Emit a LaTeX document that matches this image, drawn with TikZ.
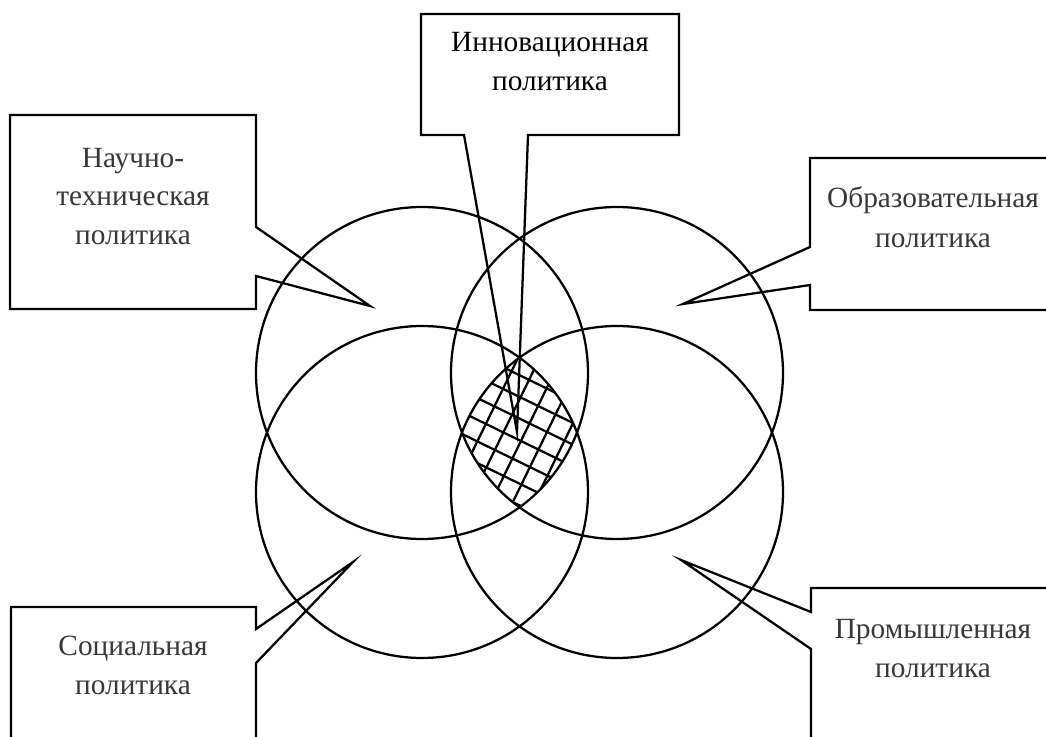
\documentclass[tikz,border=0pt]{standalone}
\usepackage{fontspec}
\setmainfont{Liberation Serif}
\begin{document}
\begin{tikzpicture}[x=0.75pt,y=-0.75pt,
  ring/.style={draw=black,line width=1.7pt},
  callout/.style={draw=black,line width=1.7pt,line join=miter},
  hatch/.style={draw=black,line width=1.7pt},
  lbl/.style={anchor=base,inner sep=0pt,text=black!78,font=\fontsize{22pt}{29pt}\selectfont},
  lblk/.style={lbl,text=black}]
\useasboundingbox (0,0) rectangle (1046,737);
\clip (0,0) rectangle (1046,737);
\fill[white] (0,0) rectangle (1046,737);
% circle centres
\coordinate (ctl) at (422,373);
\coordinate (ctr) at (617,373);
\coordinate (cbl) at (422,492);
\coordinate (cbr) at (617,492);
\coordinate (mid) at (519.5,432.5);
% hatched common part
\begin{scope}
  \clip (ctl) circle[radius=166];
  \clip (ctr) circle[radius=166];
  \clip (cbl) circle[radius=166];
  \clip (cbr) circle[radius=166];
  \begin{scope}[shift={(mid)},rotate=-26]
    \foreach \i in {-6,...,6}{
      \draw[hatch] (-140,\i*19.5+7) -- (140,\i*19.5+7);
      \draw[hatch] (\i*19.5+5,-140) -- (\i*19.5+5,140);
    }
  \end{scope}
\end{scope}
% circles
\draw[ring] (ctl) circle[radius=166];
\draw[ring] (ctr) circle[radius=166];
\draw[ring] (cbl) circle[radius=166];
\draw[ring] (cbr) circle[radius=166];
% callout tips
\coordinate (tinn) at (517,432);
\coordinate (tsci) at (370,306);
\coordinate (tedu) at (683,304);
\coordinate (tsoc) at (353,562);
\coordinate (tind) at (681,560);
% callouts
\draw[callout] (421,14) -- (679,14) -- (679,135) -- (528,135) -- (tinn) -- (464,135) -- (421,135) -- cycle;
\draw[callout] (10,115) -- (256,115) -- (256,227) -- (tsci) -- (256,276) -- (256,309) -- (10,309) -- cycle;
\draw[callout] (810,158) -- (1058,158) -- (1058,310) -- (810,310) -- (810,285) -- (tedu) -- (810,247) -- cycle;
\draw[callout] (11,607) -- (256,607) -- (256,629) -- (tsoc) -- (256,663) -- (256,760) -- (11,760) -- cycle;
\draw[callout] (811,588) -- (1058,588) -- (1058,760) -- (811,760) -- (811,649) -- (tind) -- (811,612) -- cycle;
% labels
\node[lblk] (inn1) at (550,52) {Инновационная};
\node[lblk] (inn2) at (550,91) {политика};
\node[lbl] (sci1) at (133,168) {Научно-};
\node[lbl] (sci2) at (133,206) {техническая};
\node[lbl] (sci3) at (133,245) {политика};
\node[lbl] (edu1) at (933,208) {Образовательная};
\node[lbl] (edu2) at (933,248) {политика};
\node[lbl] (soc1) at (133,655) {Социальная};
\node[lbl] (soc2) at (133,694) {политика};
\node[lbl] (ind1) at (933,638) {Промышленная};
\node[lbl] (ind2) at (933,677) {политика};
\end{tikzpicture}
\end{document}
